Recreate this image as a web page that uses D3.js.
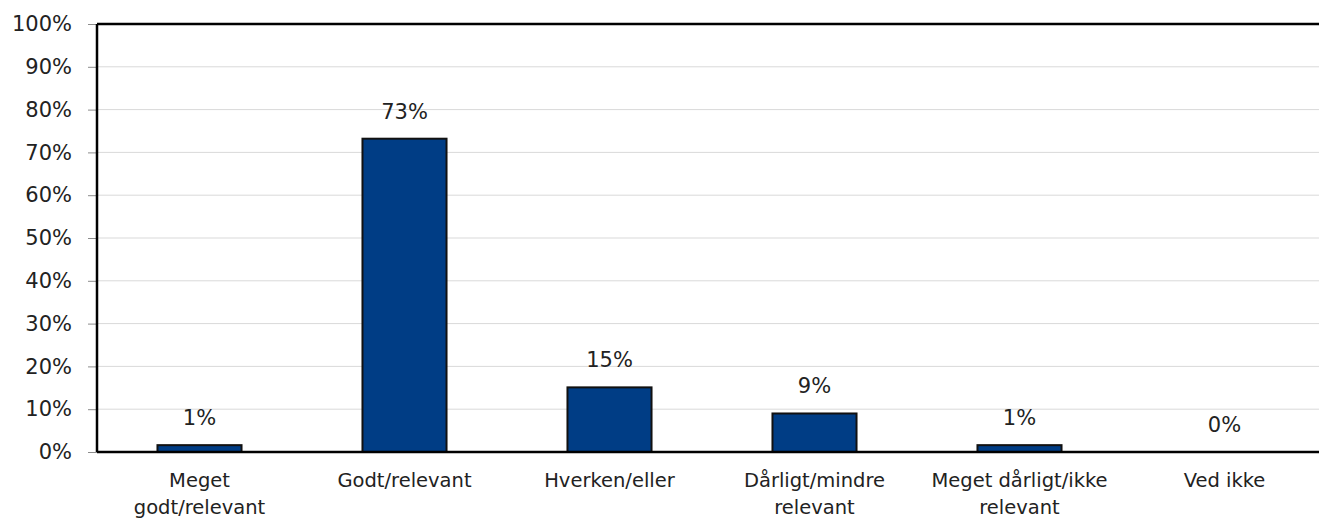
<!DOCTYPE html>
<html lang="da">
  <head>
    <meta charset="UTF-8" />
    <title>Vurdering</title>
    <script src="https://d3js.org/d3.v7.min.js"></script>
    <style>
      body {
        margin: 0;
        background: #fff;
      }
      text {
        font-family: "DejaVu Sans", sans-serif;
        fill: #222;
      }
      .grid line {
        stroke: #d9d9d9;
        stroke-width: 1;
      }
    </style>
  </head>
  <body>
    <svg width="1319" height="522"></svg>
    <script>
      // chart data
      var categories = [
        "Meget godt/relevant",
        "Godt/relevant",
        "Hverken/eller",
        "Dårligt/mindre relevant",
        "Meget dårligt/ikke relevant",
        "Ved ikke",
      ];
      var catLines = [
        ["Meget", "godt/relevant"],
        ["Godt/relevant"],
        ["Hverken/eller"],
        ["Dårligt/mindre", "relevant"],
        ["Meget dårligt/ikke", "relevant"],
        ["Ved ikke"],
      ];
      var values = [1.6, 73.2, 15.1, 9.0, 1.6, 0];
      var valueLabels = ["1%", "73%", "15%", "9%", "1%", "0%"];
      var yTicks = [0, 10, 20, 30, 40, 50, 60, 70, 80, 90, 100];

      var svg = d3.select("svg");
      var mLeft = 97,
        mRight = 1327,
        mTop = 24,
        mBottom = 452;

      var x = d3
        .scaleBand()
        .domain(categories)
        .range([mLeft, mRight])
        .paddingInner(0.59)
        .paddingOuter(0.295);

      var y = d3.scaleLinear().domain([0, 100]).range([mBottom, mTop]);

      // gridlines
      svg
        .append("g")
        .attr("class", "grid")
        .selectAll("line")
        .data(yTicks.filter((d) => d > 0 && d < 100))
        .enter()
        .append("line")
        .attr("x1", mLeft)
        .attr("x2", mRight)
        .attr("y1", (d) => y(d))
        .attr("y2", (d) => y(d));

      // y axis
      var yAxis = d3
        .axisLeft(y)
        .tickValues(yTicks)
        .tickFormat((d) => d + "%")
        .tickSize(9)
        .tickPadding(16);
      var ya = svg
        .append("g")
        .attr("transform", "translate(" + mLeft + ",0)")
        .call(yAxis);
      ya.select(".domain").remove();
      ya.selectAll(".tick line").attr("stroke", "#8c8c8c");
      ya.selectAll(".tick text")
        .attr("font-size", 21)
        .attr("font-family", "DejaVu Sans, sans-serif")
        .attr("fill", "#222");

      // bars
      svg
        .append("g")
        .selectAll("rect")
        .data(values)
        .enter()
        .append("rect")
        .attr("x", (d, i) => x(categories[i]))
        .attr("width", x.bandwidth())
        .attr("y", (d) => y(d))
        .attr("height", (d) => mBottom - y(d))
        .attr("fill", (d) => (d > 0 ? "#003d85" : "none"))
        .attr("stroke", (d) => (d > 0 ? "#111" : "none"))
        .attr("stroke-width", 2);

      // frame: left, top, bottom
      var frame = svg.append("g").attr("stroke", "#000").attr("stroke-width", 2.5);
      frame.append("line").attr("x1", mLeft).attr("x2", mLeft).attr("y1", mTop).attr("y2", mBottom);
      frame.append("line").attr("x1", mLeft).attr("x2", mRight).attr("y1", mTop).attr("y2", mTop);
      frame.append("line").attr("x1", mLeft).attr("x2", mRight).attr("y1", mBottom).attr("y2", mBottom);

      // value labels
      svg
        .append("g")
        .selectAll("text")
        .data(values)
        .enter()
        .append("text")
        .attr("x", (d, i) => x(categories[i]) + x.bandwidth() / 2)
        .attr("y", (d) => y(d) - 20)
        .attr("text-anchor", "middle")
        .attr("font-size", 21)
        .text((d, i) => valueLabels[i]);

      // category labels
      var cl = svg
        .append("g")
        .selectAll("text")
        .data(catLines)
        .enter()
        .append("text")
        .attr("x", (d, i) => x(categories[i]) + x.bandwidth() / 2)
        .attr("y", 487)
        .attr("text-anchor", "middle")
        .attr("font-size", 19.5);
      cl.selectAll("tspan")
        .data((d) => d)
        .enter()
        .append("tspan")
        .attr("x", function () {
          return this.parentNode.getAttribute("x");
        })
        .attr("dy", (d, i) => (i === 0 ? 0 : 27))
        .text((d) => d);
    </script>
  </body>
</html>
